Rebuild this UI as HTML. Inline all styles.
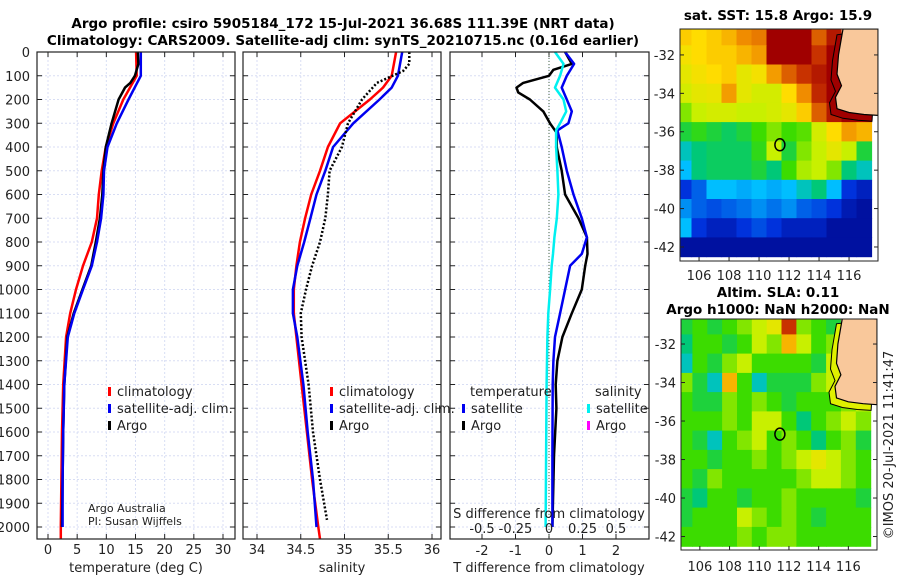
<!DOCTYPE html>
<html><head><meta charset="utf-8"><style>
body{margin:0;background:#fff}
svg{display:block;font-family:"DejaVu Sans","Liberation Sans",sans-serif}
</style></head><body>
<svg id="fig" width="900" height="580" viewBox="0 0 900 580">
<text x="343" y="28" font-size="13.5" font-weight="bold" text-anchor="middle">Argo profile: csiro 5905184_172 15-Jul-2021 36.68S 111.39E (NRT data)</text>
<text x="343" y="45" font-size="13.5" font-weight="bold" text-anchor="middle">Climatology: CARS2009. Satellite-adj clim: synTS_20210715.nc (0.16d earlier)</text>
<text x="778" y="20" font-size="13.5" font-weight="bold" text-anchor="middle">sat. SST: 15.8 Argo: 15.9</text>
<text x="778" y="297" font-size="13.5" font-weight="bold" text-anchor="middle">Altim. SLA: 0.11</text>
<text x="778" y="314" font-size="13.5" font-weight="bold" text-anchor="middle">Argo h1000: NaN h2000: NaN</text>
<text transform="translate(893,445) rotate(-90)" font-size="13" text-anchor="middle" fill="#222">©IMOS 20-Jul-2021 11:41:47</text>
<g id="plots"></g>
</svg>
<script>
// ---- profile data ----
const tDepths = [0,100,200,300,400,500,600,700,800,900,1000,1100,1200,1400,1600,1800,2000,2050];
const tClim   = [15.1,15.2,12.9,11.2,9.9,9.2,8.7,8.4,7.5,6.0,4.8,3.8,3.1,2.6,2.4,2.3,2.2,2.2];
const tSat    = [15.9,15.9,13.8,11.8,10.2,9.6,9.5,9.1,8.4,7.5,6.0,4.5,3.4,2.8,2.6,2.5,2.5,null];
const argoDepths = [0,50,100,130,150,200,300,400,500,600,700,800,900,1000,1100,1200,1400,1600,1800,2000];
const tArgo   = [15.4,15.5,14.9,14.1,13.2,12.1,10.9,9.9,9.5,9.3,8.9,8.2,7.4,5.9,4.4,3.3,2.8,2.6,2.5,2.4];
const sDepths = [0,100,150,200,300,400,500,600,700,800,900,1000,1100,1200,1400,1600,1800,2000,2050];
const sClim   = [35.59,35.54,35.44,35.29,34.95,34.81,34.72,34.62,34.55,34.49,34.45,34.42,34.42,34.45,34.51,34.57,34.63,34.70,34.72];
const sSat    = [35.66,35.61,35.54,35.40,35.10,34.87,34.78,34.68,34.61,34.54,34.46,34.41,34.41,34.46,34.53,34.58,34.64,34.68,null];
const sArgoDepths = [0,50,80,130,200,300,400,500,600,700,800,900,1000,1100,1200,1400,1600,1800,1970];
const sArgo   = [35.74,35.74,35.67,35.37,35.20,35.04,34.97,34.83,34.81,34.78,34.72,34.63,34.56,34.50,34.51,34.59,34.64,34.72,34.80];
const dDepths = [0,50,75,100,130,150,170,200,250,300,340,400,500,600,700,780,850,900,1000,1100,1200,1300,1400,1500,1700,2000];
const tDiffArgo = [0.48,0.68,0.13,0.0,-0.77,-0.97,-0.92,-0.57,-0.17,0.03,0.23,0.23,0.38,0.48,0.88,1.13,1.15,1.08,0.98,0.68,0.40,0.25,0.2,0.22,0.15,0.1];
const dSatDepths = [0,50,100,150,200,250,300,330,400,500,600,700,780,850,900,1000,1100,1200,1300,1400,1700,2000];
const tDiffSat  = [0.48,0.75,0.53,0.38,0.53,0.68,0.58,0.25,0.38,0.53,0.73,0.98,1.13,0.98,0.63,0.48,0.33,0.18,0.13,0.11,0.1,0.1];
const sDiffSat  = [0.045,0.108,0.083,0.045,0.108,0.128,0.083,0.053,0.053,0.063,0.07,0.058,0.04,0.03,0.02,0.008,-0.005,-0.012,-0.015,-0.018,-0.022,-0.025];
const depthTicks = [0,100,200,300,400,500,600,700,800,900,1000,1100,1200,1300,1400,1500,1600,1700,1800,1900,2000];
const tTicks = [0,5,10,15,20,25,30];
const sTicks = [34,34.5,35,35.5,36];
const sTickLabels = ['34','34.5','35','35.5','36'];
const dTTicks = [-2,-1,0,1,2];
const dSTicks = [-0.5,-0.25,0,0.25,0.5];
const dSTickLabels = ['-0.5','-0.25','0','0.25','0.5'];
// ---- map data (colour index 0..1, -1 = land), rows lat -31..-42, cols lon 105..117 ----
const mapLons = [105,106,107,108,109,110,111,112,113,114,115,116,117];
const mapLats = [-31,-32,-33,-34,-35,-36,-37,-38,-39,-40,-41,-42];
const sstGrid = [
[.72,.7,.72,.75,.8,.82,1,1,1,.85,.95,-1,-1],
[.68,.7,.72,.72,.75,.78,1,1,1,.9,1,-1,-1],
[.65,.68,.7,.72,.65,.68,.78,.85,.9,.95,1,-1,-1],
[.62,.65,.66,.78,.65,.62,.62,.7,.8,.92,1,.9,-1],
[.55,.6,.62,.62,.6,.6,.62,.65,.72,.85,.95,1,1],
[.45,.48,.45,.42,.45,.5,.55,.5,.52,.62,.7,.78,.75],
[.35,.4,.42,.42,.42,.48,.6,.45,.55,.6,.65,.6,.45],
[.3,.4,.42,.42,.42,.45,.4,.5,.58,.6,.55,.4,.35],
[.15,.2,.3,.3,.28,.3,.28,.3,.35,.4,.3,.15,.1],
[.25,.2,.18,.2,.22,.25,.22,.25,.2,.18,.15,.08,.05],
[.3,.15,.1,.1,.15,.18,.15,.1,.1,.1,.05,.05,.05],
[.05,.05,.05,.05,.05,.05,.05,.05,.05,.05,.05,.05,.05]];
const slaGrid = [
[.45,.5,.45,.5,.55,.6,.65,.9,.55,.5,.45,-1,-1],
[.4,.5,.5,.45,.5,.6,.55,.75,.6,.5,.55,-1,-1],
[.35,.5,.45,.55,.6,.5,.5,.5,.5,.45,.6,-1,-1],
[.55,.45,.35,.75,.5,.35,.45,.45,.45,.55,.6,.6,-1],
[.5,.45,.45,.55,.5,.55,.5,.45,.5,.5,.5,.55,.6],
[.5,.5,.5,.55,.5,.6,.6,.5,.4,.5,.55,.6,.55],
[.5,.45,.35,.5,.55,.6,.5,.55,.5,.4,.5,.55,.45],
[.5,.5,.45,.5,.5,.55,.5,.55,.6,.65,.6,.55,.5],
[.5,.45,.55,.5,.5,.5,.5,.5,.55,.6,.6,.55,.5],
[.45,.4,.5,.5,.45,.5,.5,.55,.5,.5,.5,.5,.45],
[.45,.5,.5,.5,.6,.55,.5,.55,.5,.45,.5,.5,.5],
[.5,.5,.5,.5,.55,.5,.55,.55,.5,.5,.5,.5,.5]];
const argoPos = [111.39,-36.68];
const coastLon = [115.6,115.3,115.2,115.5,115.1,115.2,116.0,117.0,117.93];
const coastLat = [-30.65,-32.0,-33.0,-33.6,-34.2,-34.8,-35.0,-35.1,-35.15];
const lonTicks = [106,108,110,112,114,116];
const latTicks = [-32,-34,-36,-38,-40,-42];

const NS='http://www.w3.org/2000/svg';
const root=document.getElementById('plots');
function mk(tag,attrs,parent){const e=document.createElementNS(NS,tag);for(const k in attrs)e.setAttribute(k,attrs[k]);(parent||root).appendChild(e);return e;}
function txt(x,y,s,size,anchor,parent){const t=mk('text',{x:x,y:y,'font-size':size,'text-anchor':anchor||'middle',fill:'#222'},parent);t.textContent=s;return t;}
const Y0=52, Y1=539;
const ys=d=>Y0+d*0.2375;
function lin(d0,d1,r0,r1){return v=>r0+(v-d0)*(r1-r0)/(d1-d0);}

function panel(name,x0,x1,xs,xticks){
  const g=mk('g',{});
  
  
  depthTicks.forEach(d=>{mk('line',{x1:x0,x2:x1,y1:ys(d),y2:ys(d),stroke:'#d8def4','stroke-width':1,'stroke-dasharray':'2,2'},g);});
  xticks.forEach(v=>{mk('line',{x1:xs(v),x2:xs(v),y1:Y0,y2:Y1,stroke:'#d8def4','stroke-width':1,'stroke-dasharray':'2,2'},g);});
  depthTicks.forEach(d=>{mk('line',{x1:x0,x2:x0+5,y1:ys(d),y2:ys(d),stroke:'#222'},g);mk('line',{x1:x1-5,x2:x1,y1:ys(d),y2:ys(d),stroke:'#222'},g);});
  xticks.forEach(v=>{mk('line',{x1:xs(v),x2:xs(v),y1:Y1,y2:Y1-5,stroke:'#222'},g);mk('line',{x1:xs(v),x2:xs(v),y1:Y0,y2:Y0+5,stroke:'#222'},g);});
  return g;
}
function frame(x0,x1,g){mk('rect',{x:x0,y:Y0,width:x1-x0,height:Y1-Y0,fill:'none',stroke:'#222','stroke-width':1.2},g);}
function line(g,depths,vals,xs,color,w,dash,name){
  let p='';depths.forEach((d,i)=>{if(vals[i]===null)return;p+=(p?'L':'M')+xs(vals[i]).toFixed(1)+','+ys(d).toFixed(1);});
  const e=mk('path',{d:p,fill:'none',stroke:color,'stroke-width':w,'stroke-linejoin':'round'},g);
  if(dash)e.setAttribute('stroke-dasharray',dash);
  
  
  return e;
}
function legendItem(g,x,y,color,label,name){
  mk('rect',{x:x,y:y-9,width:3,height:9,fill:color},g);
  const t=txt(x+9,y,label,13,'start',g);
  
  
}

// Panel 1 temperature
const xT=lin(0,30,48,223);
const g1=panel('temperature-panel',37,235,xT,tTicks);
line(g1,tDepths,tClim,xT,'#f00',2.5,null,'temp-climatology-line');
line(g1,argoDepths,tArgo,xT,'#000',2.5,null,'temp-argo-line');
line(g1,tDepths,tSat,xT,'#0000f0',2.5,null,'temp-satellite-line');
frame(37,235,g1);
depthTicks.forEach(d=>txt(30,ys(d)+5,String(d),13,'end',g1));
tTicks.forEach(v=>txt(xT(v),554,String(v),13,'middle',g1));
txt(136,572,'temperature (deg C)',13,'middle',g1);
legendItem(g1,108,396,'#f00','climatology','legend-climatology');
legendItem(g1,108,413,'#0000f0','satellite-adj. clim.','legend-satellite');
legendItem(g1,108,430,'#000','Argo','legend-argo');
txt(88,512,'Argo Australia',11,'start',g1);
txt(88,525,'PI: Susan Wijffels',11,'start',g1);

// Panel 2 salinity
const xS=lin(34,36,257,432);
const g2=panel('salinity-panel',243,441,xS,sTicks);
line(g2,sDepths,sClim,xS,'#f00',2.5,null,'sal-climatology-line');
line(g2,sDepths,sSat,xS,'#0000f0',2.5,null,'sal-satellite-line');
line(g2,sArgoDepths,sArgo,xS,'#000',2.5,'2,2','sal-argo-line');
frame(243,441,g2);
sTicks.forEach((v,i)=>txt(xS(v),554,sTickLabels[i],13,'middle',g2));
txt(342,572,'salinity',13,'middle',g2);
legendItem(g2,330,396,'#f00','climatology','legend-sal-climatology');
legendItem(g2,330,413,'#0000f0','satellite-adj. clim.','legend-sal-satellite');
legendItem(g2,330,430,'#000','Argo','legend-sal-argo');

// Panel 3 differences
const xD=lin(-2,2,482,616);
const xDS=lin(-0.5,0.5,482,616);
const g3=panel('difference-panel',450,649,xD,dTTicks);
mk('line',{x1:xD(0),x2:xD(0),y1:Y0,y2:Y1,stroke:'#464',"stroke-dasharray":'1,2'},g3);
line(g3,dDepths,tDiffArgo,xD,'#000',2.5,null,'tdiff-argo-line');
line(g3,dSatDepths,tDiffSat,xD,'#0000f0',2.5,null,'tdiff-satellite-line');
line(g3,dSatDepths,sDiffSat,xDS,'#00f0f0',2.5,null,'sdiff-satellite-line');
frame(450,649,g3);
dTTicks.forEach(v=>txt(xD(v),555,String(v),13,'middle',g3));
txt(549,572,'T difference from climatology',13,'middle',g3);
txt(549,518,'S difference from climatology',13,'middle',g3);
dSTicks.forEach((v,i)=>txt(xDS(v),533,dSTickLabels[i],13,'middle',g3));
txt(470,396,'temperature',13,'start',g3);
txt(595,396,'salinity',13,'start',g3);
legendItem(g3,462,413,'#0000f0','satellite','legend-tdiff-satellite');
legendItem(g3,462,430,'#000','Argo','legend-tdiff-argo');
legendItem(g3,587,413,'#00f0f0','satellite','legend-sdiff-satellite');
legendItem(g3,587,430,'#f0f','Argo','legend-sdiff-argo');

// colormap
const stops=[[0,[0,0,130]],[.15,[0,50,220]],[.3,[0,190,255]],[.4,[0,200,120]],[.5,[60,220,0]],[.6,[200,240,0]],[.7,[255,220,0]],[.8,[240,140,0]],[.9,[200,50,0]],[1,[160,0,0]]];
function cmap(v){if(v<0)return '#f9c89b';for(let i=1;i<stops.length;i++){if(v<=stops[i][0]){const a=stops[i-1],b=stops[i],f=(v-a[0])/(b[0]-a[0]);return 'rgb('+a[1].map((c,k)=>Math.round(c+(b[1][k]-c)*f)).join(',')+')';}}return 'rgb(160,0,0)';}

function map(name,x0,x1,y0,y1,latTop,latBot,grid,labY,shelf){
  const g=mk('g',{});
  
  
  const lx=lin(104.73,117.93,x0,x1), ly=lin(latTop,latBot,y0,y1);
  const cid=name+'-clip';
  const cp=mk('clipPath',{id:cid},g);mk('rect',{x:x0,y:y0,width:x1-x0,height:y1-y0},cp);
  const cg=mk('g',{'clip-path':'url(#'+cid+')'},g);
  grid.forEach((row,r)=>row.forEach((v,c)=>{
    const xa=lx(mapLons[c]-0.5),xb=lx(mapLons[c]+0.5),ya=ly(mapLats[r]+0.5),yb=ly(mapLats[r]-0.5);
    const rc=mk('rect',{x:xa.toFixed(1),y:ya.toFixed(1),width:(xb-xa+0.6).toFixed(1),height:(yb-ya+0.6).toFixed(1),fill:cmap(v)},cg);
    
    
  }));
  let p2='';coastLon.forEach((lo,i)=>{p2+=(i?'L':'M')+lx(lo-0.4).toFixed(1)+','+ly(coastLat[i]-0.3).toFixed(1);});
  mk('path',{d:p2+'L'+x1+','+y0+'Z',fill:shelf,stroke:'#000','stroke-width':1},cg);
  let p='';coastLon.forEach((lo,i)=>{p+=(i?'L':'M')+lx(lo).toFixed(1)+','+ly(coastLat[i]).toFixed(1);});
  mk('path',{d:p+'L'+x1+','+y0+'Z',fill:'#f9c89b',stroke:'#000','stroke-width':1.2},cg);
  const m=mk('ellipse',{cx:lx(argoPos[0]),cy:ly(argoPos[1]),rx:5,ry:6,fill:'none',stroke:'#000','stroke-width':1.5},g);
  
  
  mk('rect',{x:x0,y:y0,width:x1-x0,height:y1-y0,fill:'none',stroke:'#222'},g);
  lonTicks.forEach(v=>{mk('line',{x1:lx(v),x2:lx(v),y1:y1,y2:y1-4,stroke:'#222'},g);txt(lx(v),labY,String(v),13,'middle',g);});
  latTicks.forEach(v=>{mk('line',{x1:x0,x2:x0+4,y1:ly(v),y2:ly(v),stroke:'#222'},g);mk('line',{x1:x1,x2:x1-4,y1:ly(v),y2:ly(v),stroke:'#222'},g);txt(x0-5,ly(v)+5,String(v),13,'end',g);});
}
map('sst-map',680,878,29,261,-30.65,-42.73,sstGrid,280,'#a00000');
map('sla-map',681,877,319,550,-30.7,-42.7,slaGrid,571,'#e0f000');
</script>
</body></html>
